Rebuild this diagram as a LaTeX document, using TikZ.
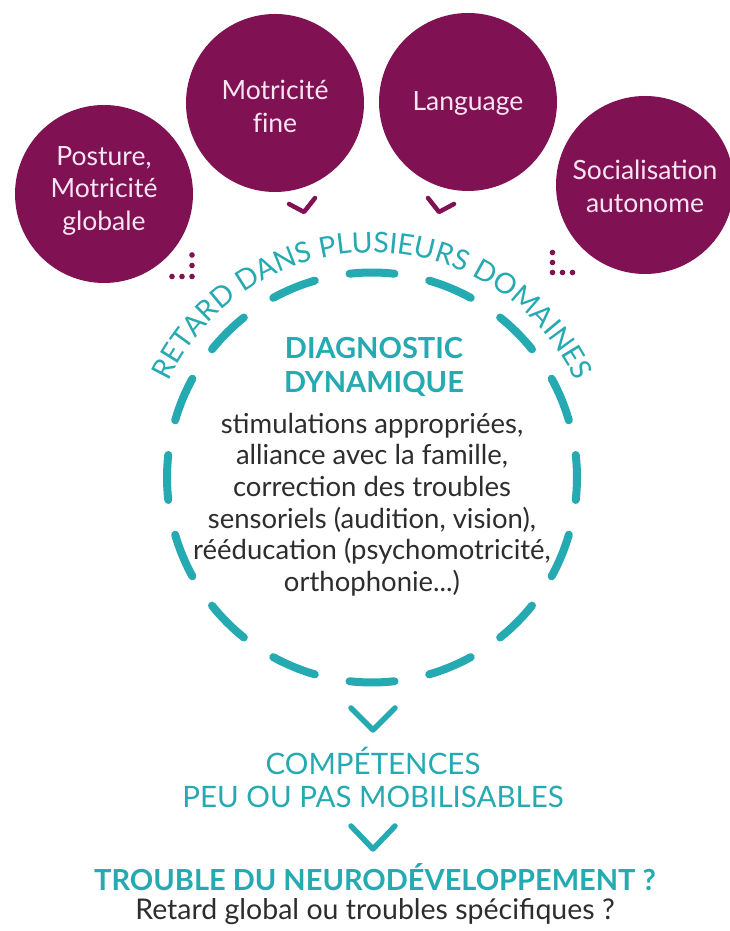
\documentclass[tikz,border=0pt]{standalone}
\usepackage{fontspec}
\setmainfont{Lato}
\usetikzlibrary{decorations.text}
\definecolor{plum}{RGB}{128,18,84}
\definecolor{tealc}{RGB}{38,170,178}
\definecolor{ink}{RGB}{45,45,45}
\definecolor{pale}{RGB}{250,228,242}
\begin{document}
\begin{tikzpicture}[x=1pt,y=1pt,
  domcirc/.style={circle, fill=plum, minimum size=178pt, inner sep=0pt},
  domtext/.style={text=pale, align=center, inner sep=0pt, font=\fontsize{26.5}{32.5}\selectfont},
  chevp/.style={draw=plum, line width=4.5pt, line cap=round, line join=round},
  chevt/.style={draw=tealc, line width=5.5pt, line cap=round, line join=round},
  dashseg/.style={draw=tealc, line width=8pt, line cap=round},
  dotp/.style={fill=plum},
  headt/.style={text=tealc, font=\fontsize{29}{34}\selectfont\bfseries, align=center, inner sep=0pt},
  bodyt/.style={text=ink, font=\fontsize{27.5}{31.7}\selectfont, align=center, inner sep=0pt},
  capt/.style={text=tealc, font=\fontsize{29.5}{35}\selectfont, inner sep=0pt},
]
\useasboundingbox (0,0) rectangle (729,931);
\fill[white] (0,0) rectangle (729,931);

% domain circles
\node[domcirc] (c1) at (104,737) {};
\node[domcirc] (c2) at (275,828) {};
\node[domcirc] (c3) at (468,829) {};
\node[domcirc] (c4) at (645,746) {};
\node[domtext] (t1) at ([yshift=3.5]c1.center) {Posture,\\Motricité\\globale};
\node[domtext] (t2) at ([yshift=-3.5]c2.center) {Motricit\'e\\f\kern0ptine};
\node[domtext] (t3) at ([yshift=-1.5]c3.center) {Language};
\node[domtext] (t4) at ([yshift=-1.5]c4.center) {Socialisation\\autonome};

% purple chevrons
\draw[chevp] (289,727) -- (304,719) -- (315,733);
\draw[chevp] (428,733) -- (439,719) -- (454,727);

% dots
\foreach \p in {(192,676),(192,665.5),(192,654.5),(182,654.5),(172,654.5)}
  \fill[dotp] \p circle (2.8);
\foreach \p in {(552.5,678.5),(552.5,668.5),(552.5,658.5),(562.5,658.5),(572.5,658.5)}
  \fill[dotp] \p circle (2.8);

% dashed circle
\coordinate (dc) at (372,453.5);
\foreach \a in {0,22.5,...,337.5}
  \draw[dashseg] (dc) ++(\a-6.3:205) arc (\a-6.3:\a+6.3:205);

% curved text
\path[decorate, decoration={text along path, text align=center,
  text={|\fontsize{28.5}{28.5}\selectfont\color{tealc}|RETARD DANS PLUSIEURS DOMAINES}}]
  (dc) ++(172:225) arc (172:8:225);

% centre text
\node[headt] (diag) at (374,564.5) {DIAGNOSTIC\\DYNAMIQUE};
\node[bodyt] (body) at (372,426.5) {stimulations appropriées,\\alliance avec la famille,\\correction des troubles\\sensoriels (audition, vision),\\rééducation (psychomotricité,\\orthophonie...)};

% lower flow
\coordinate (k1a) at (351,223); \coordinate (k1b) at (373,201); \coordinate (k1c) at (395,223);
\draw[chevt] (k1a) -- (k1b) -- (k1c);
\node[capt, anchor=base] (comp) at (373,156) {COMPÉTENCES};
\node[capt, anchor=base] (peu) at (373,123) {PEU OU PAS MOBILISABLES};
\coordinate (k2a) at (351,105); \coordinate (k2b) at (373,82); \coordinate (k2c) at (395,105);
\draw[chevt] (k2a) -- (k2b) -- (k2c);
\node[text=tealc, font=\fontsize{29}{30}\selectfont\bfseries, inner sep=0pt, anchor=base] (tnd) at (375,40) {TROUBLE DU NEURODÉVELOPPEMENT ?};
\node[text=ink, font=\fontsize{28.5}{30}\selectfont, inner sep=0pt, anchor=base] (ret) at (375,11) {Retard global ou troubles spécifiques ?};
\end{tikzpicture}
\end{document}
